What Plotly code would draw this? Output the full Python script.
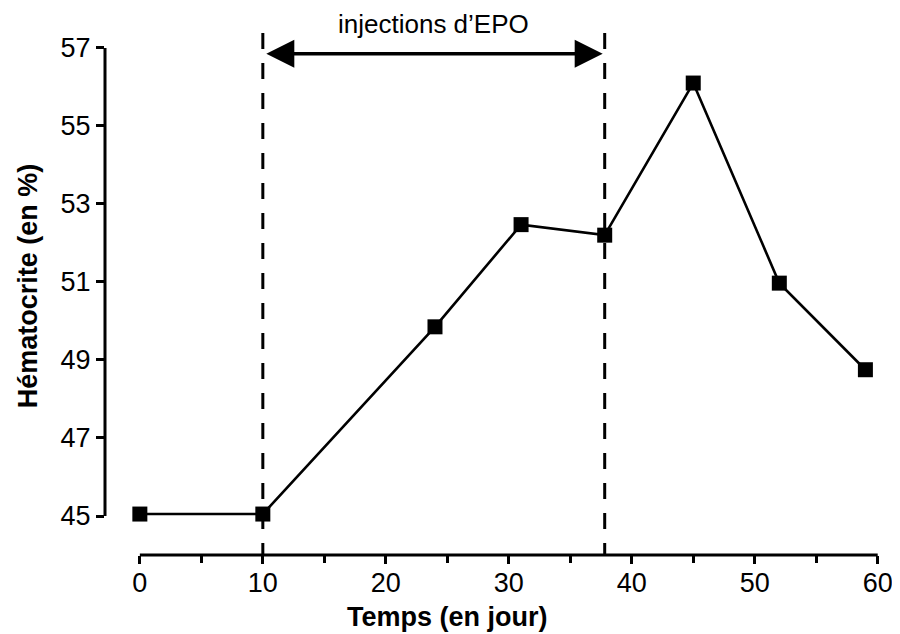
import plotly.graph_objects as go

# Data
days = [0, 10, 24, 31, 37.8, 45, 52, 59]
hematocrit = [45.05, 45.05, 49.85, 52.47, 52.2, 56.1, 50.97, 48.75]
injection_start = 10
injection_end = 37.8
injection_label = "injections d’EPO"
x_ticks = [0, 10, 20, 30, 40, 50, 60]
y_ticks = [45, 47, 49, 51, 53, 55, 57]

FONT = "Liberation Sans, Arial, sans-serif"
OFF = 8  # page body margin
W, H = 900 - OFF, 634 - OFF

fig = go.Figure()

fig.add_trace(go.Scatter(
    x=days, y=hematocrit, mode="lines+markers",
    line=dict(color="black", width=2.6),
    marker=dict(symbol="square", size=15, color="black"),
    cliponaxis=False, showlegend=False,
))

shapes = []
for xv in (injection_start, injection_end):
    shapes.append(dict(type="line", xref="x", yref="y", x0=xv, x1=xv, y0=57.38, y1=44.0,
                       line=dict(color="black", width=3, dash="16px,14px")))
shapes.append(dict(type="line", xref="x", yref="paper", x0=x_ticks[0], x1=x_ticks[-1], y0=0, y1=0,
                   line=dict(color="black", width=3)))
shapes.append(dict(type="line", xref="paper", yref="y", x0=0, x1=0, y0=y_ticks[0], y1=y_ticks[-1],
                   line=dict(color="black", width=3)))

# plot area in page pixels
L, R, T, B = 105, 893, 30, 555

def px_to_paper(px, py):
    return (px - L) / (R - L), (B - py) / (B - T)

tx, ty = px_to_paper(449, 617)
yx, yy = px_to_paper(28, 286)
_, ly = px_to_paper(0, 24)

annotations = [
    dict(x=injection_end, y=56.85, ax=injection_start, ay=56.85, xref="x", yref="y",
         axref="x", ayref="y", text="", showarrow=True, arrowside="end+start",
         arrowhead=2, startarrowhead=2, arrowwidth=3.5, arrowsize=1.6, startarrowsize=1.6,
         standoff=2, startstandoff=2, arrowcolor="black"),
    dict(x=(injection_start + injection_end) / 2, y=ly, xref="x", yref="paper",
         text=injection_label, showarrow=False, font=dict(family=FONT, size=26, color="black"),
         xanchor="center", yanchor="middle"),
    dict(x=tx, y=ty, xref="paper", yref="paper", text="<b>Temps (en jour)</b>", showarrow=False,
         font=dict(family=FONT, size=27, color="black"), xanchor="center", yanchor="middle"),
    dict(x=yx, y=yy, xref="paper", yref="paper", text="<b>Hématocrite (en %)</b>", showarrow=False,
         textangle=-90, font=dict(family=FONT, size=27, color="black"), xanchor="center", yanchor="middle"),
]

fig.update_layout(
    width=W, height=H,
    margin=dict(l=L - OFF, r=W - (R - OFF), t=T - OFF, b=H - (B - OFF)),
    paper_bgcolor="white", plot_bgcolor="white",
    shapes=shapes, annotations=annotations,
    xaxis=dict(range=[-2.834, 61], showgrid=False, zeroline=False, showline=False,
               tickmode="array", tickvals=x_ticks, ticks="outside", ticklen=8, tickwidth=3,
               tickcolor="black", tickfont=dict(family=FONT, size=27, color="black"),
               ticklabelstandoff=-4,
               minor=dict(dtick=5, tick0=0, ticks="outside", ticklen=7, tickwidth=3, tickcolor="black", showgrid=False)),
    yaxis=dict(range=[44.0, 57.46], showgrid=False, zeroline=False, showline=False,
               tickmode="array", tickvals=y_ticks, ticks="outside", ticklen=8, tickwidth=3,
               tickcolor="black", tickfont=dict(family=FONT, size=27, color="black"),
               ticklabelstandoff=0),
)

fig.write_html("out.html")
